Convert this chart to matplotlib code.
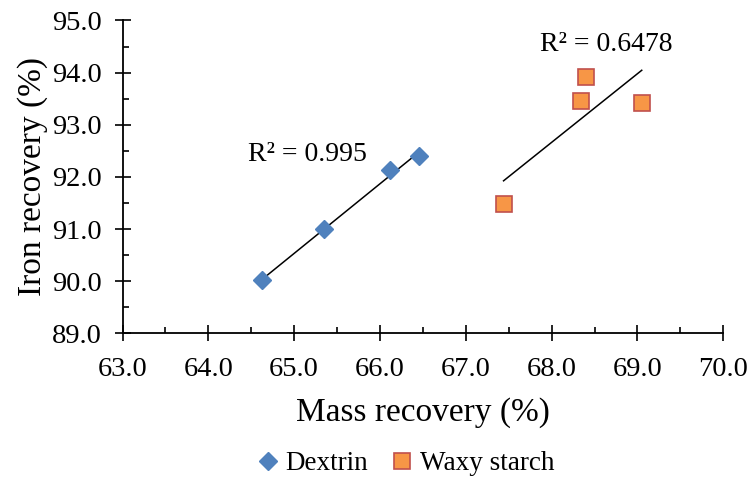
import numpy as np
import matplotlib
matplotlib.use("Agg")
import matplotlib.pyplot as plt
from matplotlib.ticker import MultipleLocator, FormatStrFormatter

plt.rcParams['font.family'] = ['Liberation Serif', 'DejaVu Serif']

# Data
dextrin_x = [64.63, 65.35, 66.12, 66.46]
dextrin_y = [90.02, 91.00, 92.13, 92.40]
waxy_x = [67.44, 68.34, 68.40, 69.05]
waxy_y = [91.48, 93.46, 93.91, 93.42]
series_names = ["Dextrin", "Waxy starch"]
r2_labels = ["R\u00b2 = 0.995", "R\u00b2 = 0.6478"]
x_label = "Mass recovery (%)"
y_label = "Iron recovery (%)"

fig = plt.figure(figsize=(7.52, 4.8), dpi=100)
ax = fig.add_axes([0.1629, 0.3056, 0.7989, 0.6517])

blue = "#4F81BD"
orange = "#F79646"
red_edge = "#C0504D"

h1, = ax.plot(dextrin_x, dextrin_y, linestyle='none', marker='D', markersize=9.2,
              color=blue, markeredgecolor=blue, zorder=3, label=series_names[0])
h2, = ax.plot(waxy_x, waxy_y, linestyle='none', marker='s', markersize=12,
              markerfacecolor=orange, markeredgecolor=red_edge, markeredgewidth=1.2,
              zorder=3, label=series_names[1])

# Linear trendlines
for xs, ys in ((dextrin_x, dextrin_y), (waxy_x, waxy_y)):
    xs = np.asarray(xs); ys = np.asarray(ys)
    m, b = np.polyfit(xs, ys, 1)
    xx = np.array([xs.min(), xs.max()])
    ax.plot(xx, m * xx + b, color='black', linewidth=1.1, zorder=2)

ax.text(64.46, 92.31, r2_labels[0], fontsize=20, ha='left', va='baseline')
ax.text(67.86, 94.42, r2_labels[1], fontsize=20, ha='left', va='baseline')

ax.set_xlim(63, 70)
ax.set_ylim(89, 95)
ax.xaxis.set_major_locator(MultipleLocator(1))
ax.xaxis.set_minor_locator(MultipleLocator(0.5))
ax.yaxis.set_major_locator(MultipleLocator(1))
ax.yaxis.set_minor_locator(MultipleLocator(0.5))
ax.xaxis.set_major_formatter(FormatStrFormatter('%.1f'))
ax.yaxis.set_major_formatter(FormatStrFormatter('%.1f'))

for s in ('top', 'right'):
    ax.spines[s].set_visible(False)
for s in ('left', 'bottom'):
    ax.spines[s].set_linewidth(1.3)
    ax.spines[s].set_color('black')

ax.tick_params(which='major', direction='inout', length=11, width=1.2, labelsize=20.5)
ax.tick_params(axis='x', which='major', pad=11.5)
ax.tick_params(axis='y', which='major', pad=9.5)
ax.tick_params(which='minor', direction='in', length=4.5, width=1.2)

ax.set_xlabel(x_label, fontsize=24, labelpad=11)
ax.set_ylabel(y_label, fontsize=24, labelpad=3)

fig.legend(handles=[h1, h2], loc='center', bbox_to_anchor=(406.5 / 752, 1 - 464 / 480),
           ncol=2, frameon=False, fontsize=19.5, handlelength=0.7, handletextpad=0.3,
           columnspacing=0.9, borderpad=0.1)

fig.savefig("out.png", dpi=100)
